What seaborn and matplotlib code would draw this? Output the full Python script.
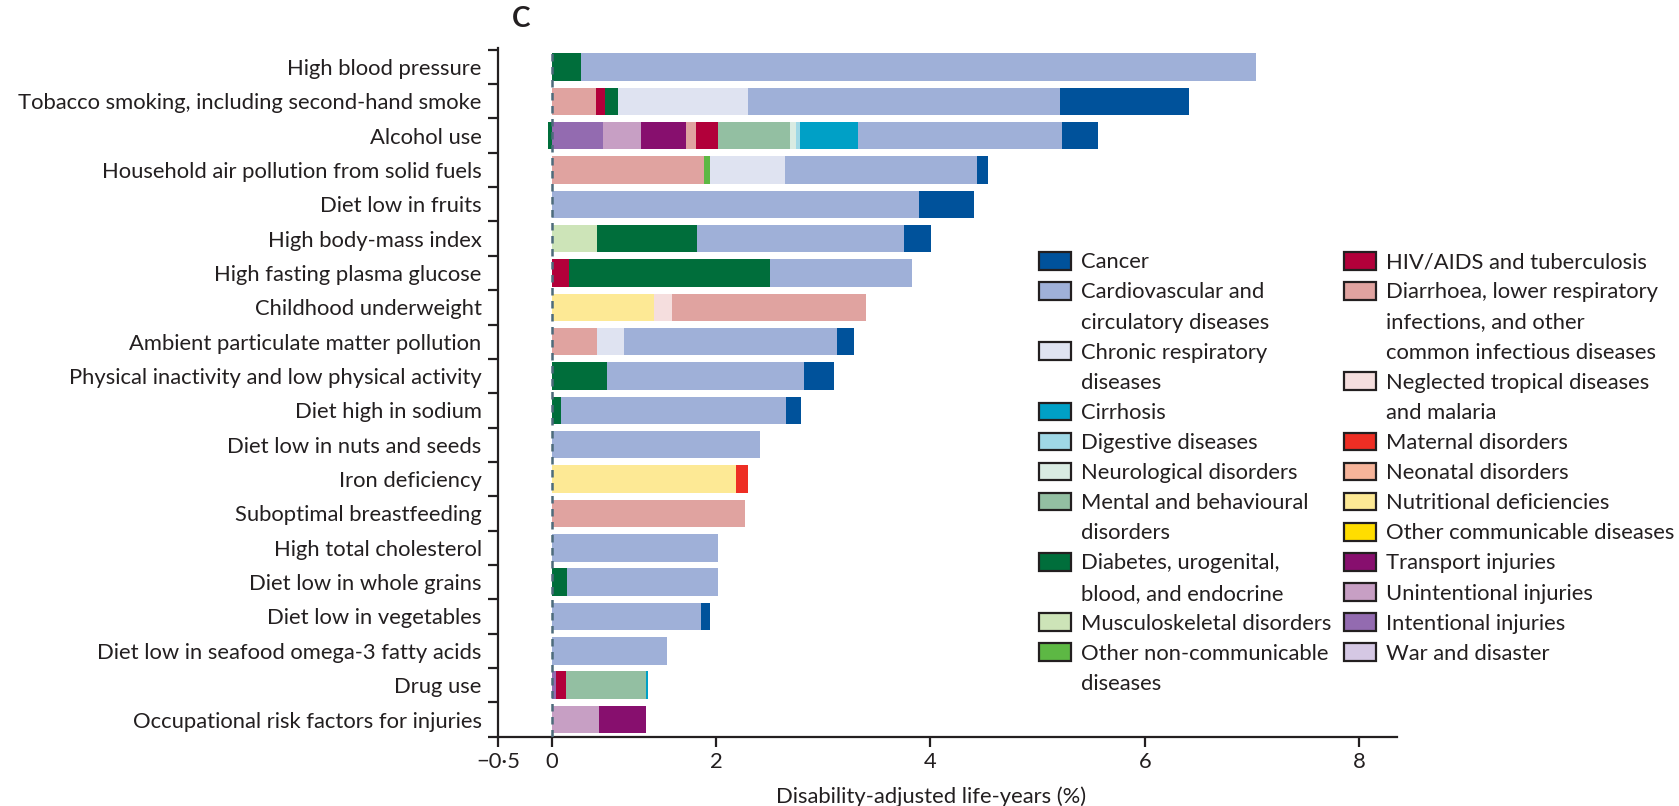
import numpy as np
import pandas as pd
import matplotlib
matplotlib.use("Agg")
import matplotlib.pyplot as plt
from matplotlib.patches import Patch
import seaborn as sns

# ---------------- data ----------------
RISK_FACTORS = [
    "High blood pressure",
    "Tobacco smoking, including second-hand smoke",
    "Alcohol use",
    "Household air pollution from solid fuels",
    "Diet low in fruits",
    "High body-mass index",
    "High fasting plasma glucose",
    "Childhood underweight",
    "Ambient particulate matter pollution",
    "Physical inactivity and low physical activity",
    "Diet high in sodium",
    "Diet low in nuts and seeds",
    "Iron deficiency",
    "Suboptimal breastfeeding",
    "High total cholesterol",
    "Diet low in whole grains",
    "Diet low in vegetables",
    "Diet low in seafood omega-3 fatty acids",
    "Drug use",
    "Occupational risk factors for injuries",
]

# DALY share (%) by cause, one value per risk factor (same order as above)
CANCER        = [0, 1.20, 0.33, 0.11, 0.52, 0.26, 0, 0, 0.16, 0.28, 0.14, 0, 0, 0, 0, 0, 0.08, 0, 0, 0]
CARDIO        = [6.30, 2.91, 1.91, 1.79, 3.42, 1.93, 1.33, 0, 1.99, 1.84, 2.10, 1.94, 0, 0, 1.55, 1.41, 1.39, 1.07, 0, 0]
CHRONIC_RESP  = [0, 1.21, 0, 0.70, 0, 0, 0, 0, 0.25, 0, 0, 0, 0, 0, 0, 0, 0, 0, 0, 0]
CIRRHOSIS     = [0, 0, 0.54, 0, 0, 0, 0, 0, 0, 0, 0, 0, 0, 0, 0, 0, 0, 0, 0.02, 0]
DIGESTIVE     = [0, 0, 0.03, 0, 0, 0, 0, 0, 0, 0, 0, 0, 0, 0, 0, 0, 0, 0, 0, 0]
NEUROLOGICAL  = [0, 0, 0.06, 0, 0, 0, 0, 0, 0, 0, 0, 0, 0, 0, 0, 0, 0, 0, 0, 0]
MENTAL        = [0, 0, 0.67, 0, 0, 0, 0, 0, 0, 0, 0, 0, 0, 0, 0, 0, 0, 0, 0.75, 0]
DIABETES      = [0.27, 0.13, -0.04, 0, 0, 0.93, 1.87, 0, 0, 0.51, 0.08, 0, 0, 0, 0, 0.14, 0, 0, 0, 0]
MUSCULO       = [0, 0, 0, 0, 0, 0.42, 0, 0, 0, 0, 0, 0, 0, 0, 0, 0, 0, 0, 0, 0]
OTHER_NCD     = [0, 0, 0, 0.05, 0, 0, 0, 0, 0, 0, 0, 0, 0, 0, 0, 0, 0, 0, 0, 0]
HIV_TB        = [0, 0.08, 0.21, 0, 0, 0, 0.16, 0, 0, 0, 0, 0, 0, 0, 0, 0, 0, 0, 0.09, 0]
DIARRHOEA_LRI = [0, 0.41, 0.09, 1.42, 0, 0, 0, 1.81, 0.42, 0, 0, 0, 0, 1.80, 0, 0, 0, 0, 0, 0]
NTD_MALARIA   = [0, 0, 0, 0, 0, 0, 0, 0.17, 0, 0, 0, 0, 0, 0, 0, 0, 0, 0, 0, 0]
MATERNAL      = [0, 0, 0, 0, 0, 0, 0, 0, 0, 0, 0, 0, 0.11, 0, 0, 0, 0, 0, 0, 0]
NEONATAL      = [0] * 20
NUTRITIONAL   = [0, 0, 0, 0, 0, 0, 0, 0.95, 0, 0, 0, 0, 1.72, 0, 0, 0, 0, 0, 0, 0]
OTHER_COMM    = [0] * 20
TRANSPORT     = [0, 0, 0.42, 0, 0, 0, 0, 0, 0, 0, 0, 0, 0, 0, 0, 0, 0, 0, 0, 0.44]
UNINTENTIONAL = [0, 0, 0.35, 0, 0, 0, 0, 0, 0, 0, 0, 0, 0, 0, 0, 0, 0, 0, 0, 0.44]
INTENTIONAL   = [0, 0, 0.48, 0, 0, 0, 0, 0, 0, 0, 0, 0, 0, 0, 0, 0, 0, 0, 0.04, 0]
WAR           = [0] * 20

CAUSE_VALUES = {
    "Cancer": CANCER,
    "Cardiovascular and\ncirculatory diseases": CARDIO,
    "Chronic respiratory\ndiseases": CHRONIC_RESP,
    "Cirrhosis": CIRRHOSIS,
    "Digestive diseases": DIGESTIVE,
    "Neurological disorders": NEUROLOGICAL,
    "Mental and behavioural\ndisorders": MENTAL,
    "Diabetes, urogenital,\nblood, and endocrine": DIABETES,
    "Musculoskeletal disorders": MUSCULO,
    "Other non-communicable\ndiseases": OTHER_NCD,
    "HIV/AIDS and tuberculosis": HIV_TB,
    "Diarrhoea, lower respiratory\ninfections, and other\ncommon infectious diseases": DIARRHOEA_LRI,
    "Neglected tropical diseases\nand malaria": NTD_MALARIA,
    "Maternal disorders": MATERNAL,
    "Neonatal disorders": NEONATAL,
    "Nutritional deficiencies": NUTRITIONAL,
    "Other communicable diseases": OTHER_COMM,
    "Transport injuries": TRANSPORT,
    "Unintentional injuries": UNINTENTIONAL,
    "Intentional injuries": INTENTIONAL,
    "War and disaster": WAR,
}
CAUSE_COLORS = [
    "#00529b", "#9fb0d8", "#dfe3f1", "#00a0c6", "#9fd8e6", "#d9ebe2", "#93bfa2",
    "#006e3b", "#cde4b8", "#5db844",
    "#b2003a", "#e0a3a0", "#f5dede", "#ee2e24", "#f6b49a", "#fde995", "#ffdd00",
    "#870f6e", "#c79fc4", "#936bb0", "#d5c8e4",
]
CAUSES = list(CAUSE_VALUES.keys())
COLOR = dict(zip(CAUSES, CAUSE_COLORS))

# left-to-right stacking order of segments inside each bar
STACK_ORDER = [
    "Intentional injuries", "Unintentional injuries", "Transport injuries",
    "War and disaster", "Nutritional deficiencies",
    "Neglected tropical diseases\nand malaria", "Maternal disorders",
    "Neonatal disorders", "Other communicable diseases",
    "Diarrhoea, lower respiratory\ninfections, and other\ncommon infectious diseases",
    "HIV/AIDS and tuberculosis", "Musculoskeletal disorders",
    "Diabetes, urogenital,\nblood, and endocrine",
    "Other non-communicable\ndiseases", "Mental and behavioural\ndisorders",
    "Neurological disorders", "Digestive diseases", "Cirrhosis",
    "Chronic respiratory\ndiseases", "Cardiovascular and\ncirculatory diseases",
    "Cancer",
]

X_TICK_VALUES = [-0.5, 0, 2, 4, 6, 8]
X_TICK_LABELS = ["\u22120\u00b75", "0", "2", "4", "6", "8"]
# the printed 2-8 labels in the reference sit offset from the bar scale
LABEL_SHIFT = 0.47

# ---------------- style ----------------
sns.set_style("white")
plt.rcParams["font.family"] = ["Lato", "DejaVu Sans"]
INK = "#231f20"
FS = 15.8

fig = plt.figure(figsize=(16.79, 8.06), dpi=100)
ax = fig.add_axes([0.29684, 0.0860, 0.53550, 0.8544])

# long-form table
rows = []
for cause in CAUSES:
    for rf, v in zip(RISK_FACTORS, CAUSE_VALUES[cause]):
        rows.append((rf, cause, v))
df = pd.DataFrame(rows, columns=["risk", "cause", "value"])
wide = df.pivot(index="risk", columns="cause", values="value").loc[RISK_FACTORS]
pos = wide[STACK_ORDER].clip(lower=0).cumsum(axis=1)

BAR_W = 0.8
# overlay cumulative bars from right-most segment to left-most
for cause in reversed(STACK_ORDER):
    mask = wide[cause] > 0
    if not mask.any():
        continue
    sub = pd.DataFrame({"risk": wide.index[mask], "cum": pos[cause][mask].values})
    sns.barplot(data=sub, x="cum", y="risk", order=RISK_FACTORS, orient="h",
                color=COLOR[cause], saturation=1, errorbar=None, width=BAR_W,
                linewidth=0, ax=ax)
# negative contributions extend left of zero
for cause in STACK_ORDER:
    mask = wide[cause] < 0
    if not mask.any():
        continue
    sub = pd.DataFrame({"risk": wide.index[mask], "val": wide[cause][mask].values})
    sns.barplot(data=sub, x="val", y="risk", order=RISK_FACTORS, orient="h",
                color=COLOR[cause], saturation=1, errorbar=None, width=BAR_W,
                linewidth=0, ax=ax)

ax.axvline(0, color="#4d6b7b", lw=1.8, ls=(0, (3, 2.2)), zorder=5)

ax.set_xlim(-0.5, 7.887)
ax.set_ylim(len(RISK_FACTORS) - 0.5, -0.55)

for s in ["top", "right"]:
    ax.spines[s].set_visible(False)
for s in ["left", "bottom"]:
    ax.spines[s].set_linewidth(1.6)
    ax.spines[s].set_color(INK)

tick_pos = [v - LABEL_SHIFT if v > 0 else v for v in X_TICK_VALUES]
ax.set_xticks(tick_pos)
ax.set_xticklabels(X_TICK_LABELS)
ax.tick_params(axis="x", length=7, width=1.6, color=INK, labelsize=FS,
               labelcolor=INK, pad=4, direction="out", bottom=True)

ax.set_yticks(range(len(RISK_FACTORS)))
ax.set_yticklabels(RISK_FACTORS)
ax.set_yticks(np.arange(-0.5, len(RISK_FACTORS), 1), minor=True)
ax.tick_params(axis="y", which="major", length=0, labelsize=FS, labelcolor=INK, pad=12)
ax.tick_params(axis="y", which="minor", length=7, width=1.6, color=INK,
               direction="out", left=True)

ax.set_ylabel("")
ax.set_xlabel("Disability-adjusted life-years (%)", fontsize=FS, color=INK)
ax.xaxis.set_label_coords(0.481, -0.087)
ax.xaxis.label.set_va("center")

fig.text(521 / 1679, 1 - 19 / 806, "C", fontsize=20, fontweight="bold",
         color=INK, ha="center", va="center")

# ---------------- legend ----------------
def legend_entries(causes):
    handles, labels = [], []
    for c in causes:
        lines = c.split("\n")
        handles.append(Patch(facecolor=COLOR[c], edgecolor=INK, linewidth=1.6))
        labels.append(lines[0])
        for extra in lines[1:]:
            handles.append(Patch(facecolor="none", edgecolor="none"))
            labels.append(extra)
    return handles, labels

leg_kw = dict(loc="upper left", frameon=False, fontsize=FS, borderpad=0,
              borderaxespad=0, handlelength=1.45, handleheight=0.85,
              handletextpad=0.45, labelspacing=0.445, labelcolor=INK,
              bbox_transform=fig.transFigure)
h1, l1 = legend_entries(CAUSES[:10])
h2, l2 = legend_entries(CAUSES[10:])
leg1 = fig.legend(h1, l1, bbox_to_anchor=(1039 / 1679, 1 - 252 / 806), **leg_kw)
leg2 = fig.legend(h2, l2, bbox_to_anchor=(1344 / 1679, 1 - 252 / 806), **leg_kw)

fig.savefig("out.png", dpi=100)
